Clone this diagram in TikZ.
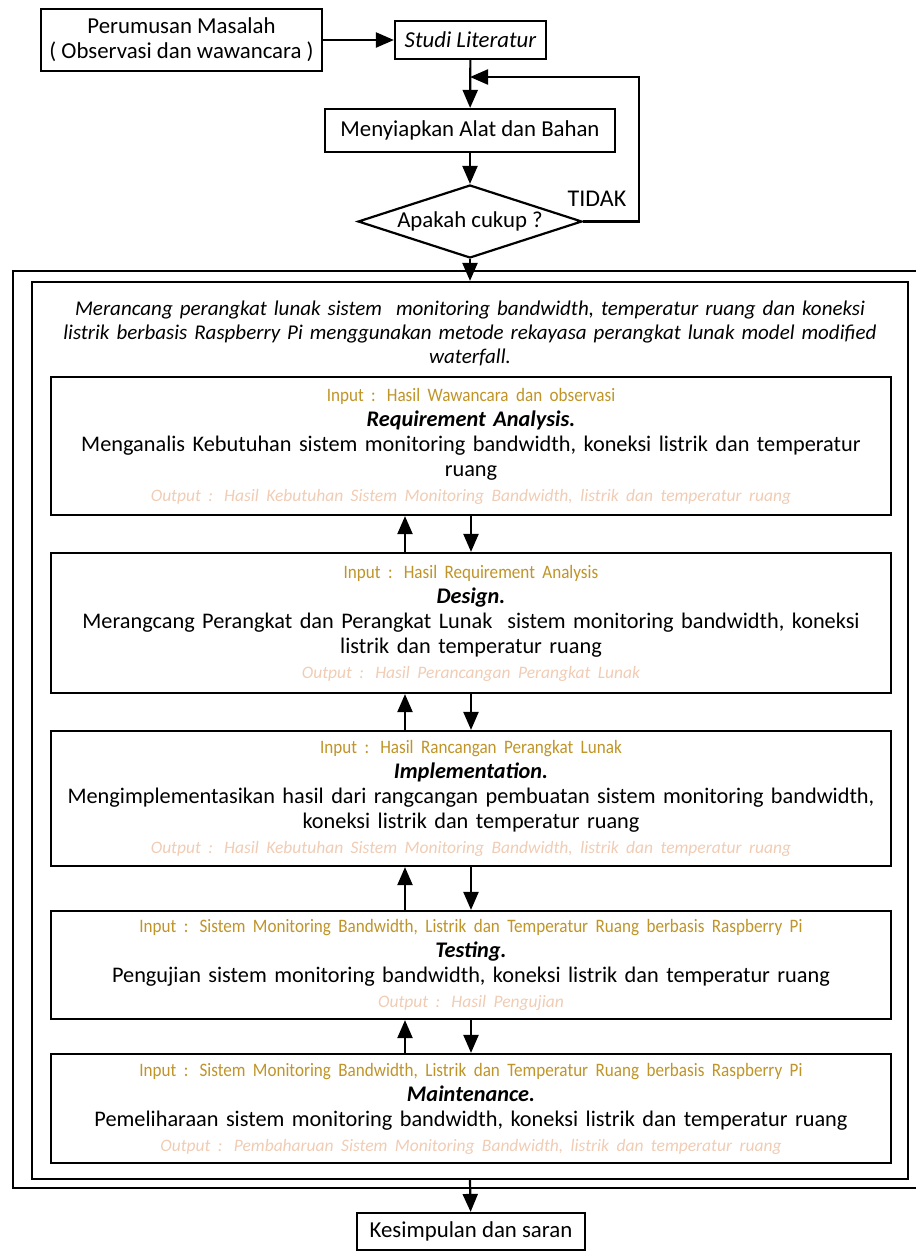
\documentclass[tikz,border=0pt]{standalone}
\usepackage{fontspec}
\setmainfont{Carlito}
\newfontfamily\condfont{Carlito}[FakeStretch=0.9]
\usetikzlibrary{shapes,arrows.meta}
\usetikzlibrary{positioning}
\usetikzlibrary{calc}

\definecolor{inputgold}{RGB}{191,148,40}
\definecolor{outputpeach}{RGB}{240,204,180}
\newcommand{\inp}[1]{{\condfont\fontsize{19}{25}\selectfont\color{inputgold}#1}}
\newcommand{\outp}[1]{{\fontsize{17.5}{25}\selectfont\itshape\color{outputpeach}#1}}
\newcommand{\ttl}[1]{{\bfseries\itshape #1}}

\begin{document}
\begin{tikzpicture}[x=1pt,y=-1pt,
   box/.style={draw, line width=2.2pt, inner sep=0pt, align=center,
      font=\fontsize{22.8}{25}\selectfont},
   stage/.style={box, minimum width=840pt, text width=836pt,
      font=\fontsize{22.3}{25}\selectfont},
   frame/.style={draw, line width=2.2pt, inner sep=0pt},
   decision/.style={diamond, draw, line width=2.2pt, inner sep=0pt, aspect=3.07,
      minimum width=224pt, minimum height=73pt, font=\fontsize{22.8}{25}\selectfont},
   arr/.style={line width=2.2pt, -{Triangle[length=18pt,width=15pt]}}]
\useasboundingbox (0,0) rectangle (916,1251);

% bagian atas
\node[box, minimum width=281pt, minimum height=62pt]
   (masalah) at (181.5,40) {Perumusan Masalah\\( Observasi dan wawancara )};
\node[box, minimum width=151pt, minimum height=38pt, font=\fontsize{22.8}{25}\selectfont\itshape]
   (studi) at (470.5,40) {Studi Literatur};
\node[box, minimum width=290pt, minimum height=43pt]
   (alat) at (470,130.5) {Menyiapkan Alat dan Bahan};
\node[decision] (cukup) at (470,221.5) {Apakah cukup ?};
\node[font=\fontsize{24}{25}\selectfont] (tidak) at (597,199) {TIDAK};
\coordinate (balik) at (470,77);

% kotak waterfall
\node[frame, minimum width=912pt, minimum height=917pt] (luar) at (469,729.5) {};
\node[frame, minimum width=876pt, minimum height=897pt] (fase) at (470,730.5) {};
\node[align=center, text width=870pt, font=\fontsize{21}{24}\selectfont\itshape]
   (tujuan) at (470,333) {Merancang perangkat lunak sistem~ monitoring bandwidth, temperatur ruang dan koneksi\\
   listrik berbasis Raspberry Pi menggunakan metode rekayasa perangkat lunak model modified\\
   waterfall.};

\node[stage, minimum height=138pt] (req) at (471,446) {%
   \inp{Input : Hasil Wawancara dan observasi}\\
   \ttl{Requirement Analysis.}\\
   Menganalis Kebutuhan sistem monitoring bandwidth, koneksi listrik dan temperatur\\
   ruang\\
   \outp{Output : Hasil Kebutuhan Sistem Monitoring Bandwidth, listrik dan temperatur ruang}};
\node[stage, minimum height=140pt] (design) at (471,623) {%
   \inp{Input : Hasil Requirement Analysis}\\
   \ttl{Design.}\\
   Merangcang Perangkat dan Perangkat Lunak~ sistem monitoring bandwidth, koneksi\\
   listrik dan temperatur ruang\\
   \outp{Output : Hasil Perancangan Perangkat Lunak}};
\node[stage, minimum height=135pt] (impl) at (471,798.5) {%
   \inp{Input : Hasil Rancangan Perangkat Lunak}\\
   \ttl{Implementation.}\\
   Mengimplementasikan hasil dari rangcangan pembuatan sistem monitoring bandwidth,\\
   koneksi listrik dan temperatur ruang\\
   \outp{Output : Hasil Kebutuhan Sistem Monitoring Bandwidth, listrik dan temperatur ruang}};
\node[stage, minimum height=108pt] (test) at (471,965) {%
   \inp{Input : Sistem Monitoring Bandwidth, Listrik dan Temperatur Ruang berbasis Raspberry Pi}\\
   \ttl{Testing.}\\
   Pengujian sistem monitoring bandwidth, koneksi listrik dan temperatur ruang\\
   \outp{Output : Hasil Pengujian}};
\node[stage, minimum height=109pt] (maint) at (471,1108.5) {%
   \inp{Input : Sistem Monitoring Bandwidth, Listrik dan Temperatur Ruang berbasis Raspberry Pi}\\
   \ttl{Maintenance.}\\
   Pemeliharaan sistem monitoring bandwidth, koneksi listrik dan temperatur ruang\\
   \outp{Output : Pembaharuan Sistem Monitoring Bandwidth, listrik dan temperatur ruang}};

\node[box, minimum width=228pt, minimum height=37pt]
   (simpulan) at (471,1231.5) {Kesimpulan dan saran};

% panah
\draw[arr] (masalah) -- (studi);
\draw[arr] (studi) -- (alat);
\draw[arr] (alat) -- (cukup);
\draw[arr] (cukup.east) -- ++(56,0) |- (balik);
\draw[arr] (cukup) -- (fase.north);
\draw[arr] ([xshift=-66pt]design.north) -- ([xshift=-66pt]req.south);
\draw[arr] (req) -- (design);
\draw[arr] ([xshift=-66pt]impl.north) -- ([xshift=-66pt]design.south);
\draw[arr] (design) -- (impl);
\draw[arr] ([xshift=-66pt]test.north) -- ([xshift=-66pt]impl.south);
\draw[arr] (impl) -- (test);
\draw[arr] ([xshift=-66pt]maint.north) -- ([xshift=-66pt]test.south);
\draw[arr] (test) -- (maint);
\draw[arr] (fase.south) -- (simpulan);
\end{tikzpicture}
\end{document}
